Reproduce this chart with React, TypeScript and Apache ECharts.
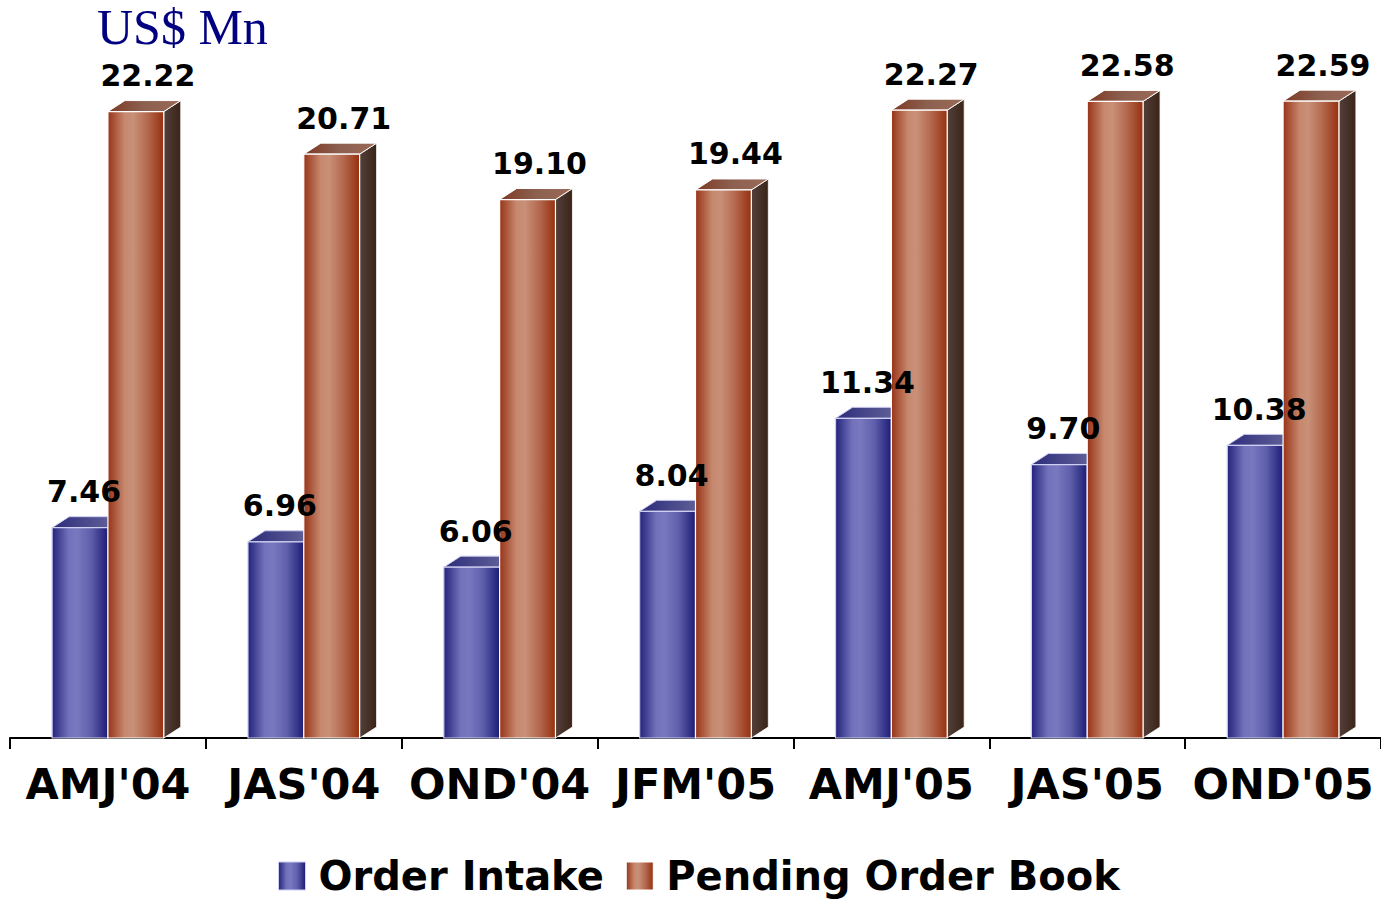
import React, { useEffect, useRef } from "react";
import * as echarts from "echarts";

// Quarterly figures, US$ Mn
const quarters = ["AMJ'04", "JAS'04", "OND'04", "JFM'05", "AMJ'05", "JAS'05", "OND'05"];
const orderIntake = [7.46, 6.96, 6.06, 8.04, 11.34, 9.7, 10.38];
const pendingOrderBook = [22.22, 20.71, 19.1, 19.44, 22.27, 22.58, 22.59];
const seriesNames = ["Order Intake", "Pending Order Book"];

const BOLD_FONT = '"DejaVu Sans", "Liberation Sans", Arial, sans-serif';

// Pseudo-3D bar geometry (pixels)
const DEPTH_X = 17;
const DEPTH_Y = 11;
const BAR_RATIO = 0.285;

const hGrad = (stops: [number, string][]) =>
  new echarts.graphic.LinearGradient(
    0, 0, 1, 0,
    stops.map(([offset, color]) => ({ offset, color }))
  );

const palettes = [
  {
    front: () => hGrad([[0, "#23237c"], [0.3, "#7272bb"], [0.45, "#7878c0"], [0.7, "#5e5eab"], [1, "#1c1c76"]]),
    top: () => hGrad([[0, "#2c2c7a"], [1, "#6c6ca0"]]),
    side: () => hGrad([[0, "#2a2a60"], [1, "#1a1a40"]]),
    stroke: "#cfcff2",
    labelShift: 4,
  },
  {
    front: () => hGrad([[0, "#983418"], [0.3, "#c6886e"], [0.45, "#c99078"], [0.7, "#b46a50"], [1, "#96300e"]]),
    top: () => hGrad([[0, "#7e3a24"], [0.5, "#8c6050"], [1, "#9c6a58"]]),
    side: () => hGrad([[0, "#54403a"], [1, "#3a2418"]]),
    stroke: "#ffffff",
    labelShift: 12,
  },
];

// Front-face x position and width of a bar within its category band
const barFrame = (seriesIdx: number, api: any) => {
  const idx = api.value(0);
  const val = api.value(1);
  const base = api.coord([idx, 0]);
  const top = api.coord([idx, val]);
  const band = api.size([1, 0])[0];
  const w = band * BAR_RATIO;
  const x = seriesIdx === 0 ? base[0] - w : base[0];
  return { val, x, w, yTop: top[1], yBase: base[1] };
};

const makeBarRenderItem = (seriesIdx: number) => (params: any, api: any) => {
  const { x, w, yTop, yBase } = barFrame(seriesIdx, api);
  const pal = palettes[seriesIdx];
  return {
    type: "group",
    children: [
      {
        type: "polygon",
        shape: {
          points: [
            [x + w, yTop],
            [x + w + DEPTH_X, yTop - DEPTH_Y],
            [x + w + DEPTH_X, yBase - DEPTH_Y],
            [x + w, yBase],
          ],
        },
        style: { fill: pal.side(), stroke: pal.stroke, lineWidth: 0.8 },
      },
      {
        type: "polygon",
        shape: {
          points: [
            [x, yTop],
            [x + DEPTH_X, yTop - DEPTH_Y],
            [x + w + DEPTH_X, yTop - DEPTH_Y],
            [x + w, yTop],
          ],
        },
        style: { fill: pal.top(), stroke: pal.stroke, lineWidth: 1 },
      },
      {
        type: "rect",
        shape: { x, y: yTop, width: w, height: yBase - yTop },
        style: { fill: pal.front(), stroke: pal.stroke, lineWidth: 1.2 },
      },
    ],
  };
};

// Value labels sit above every bar, on top of all bar faces
const makeLabelRenderItem = (seriesIdx: number) => (params: any, api: any) => {
  const { val, x, w, yTop } = barFrame(seriesIdx, api);
  const pal = palettes[seriesIdx];
  return {
    type: "text",
    x: x + w / 2 + pal.labelShift,
    y: yTop - DEPTH_Y - 10,
    style: {
      text: val.toFixed(2),
      fontSize: 30,
      fontWeight: "bold",
      fontFamily: BOLD_FONT,
      fill: "#000000",
      align: "center",
      verticalAlign: "bottom",
    },
  };
};

export default function App() {
  const ref = useRef<HTMLDivElement>(null);

  useEffect(() => {
    if (!ref.current) return;
    const chart = echarts.init(ref.current, null, { renderer: "svg" });

    const seriesData = [orderIntake, pendingOrderBook];

    const barSeries = seriesNames.map((name, i) => ({
      name,
      type: "custom",
      renderItem: makeBarRenderItem(i),
      encode: { x: 0, y: 1 },
      itemStyle: { color: palettes[i].front() },
      data: seriesData[i].map((v, k) => [k, v]),
      clip: false,
      z: 2 + i,
    }));

    const labelSeries = seriesNames.map((name, i) => ({
      name,
      type: "custom",
      renderItem: makeLabelRenderItem(i),
      encode: { x: 0, y: 1 },
      itemStyle: { color: palettes[i].front() },
      data: seriesData[i].map((v, k) => [k, v]),
      clip: false,
      silent: true,
      z: 10,
    }));

    chart.setOption({
      animation: false,
      backgroundColor: "#ffffff",
      grid: { left: 10, top: 5, width: 1379, height: 733, containLabel: false },
      xAxis: {
        type: "category",
        data: quarters,
        boundaryGap: true,
        axisLine: { show: true, lineStyle: { color: "#000000", width: 2 } },
        axisTick: { show: true, length: 11, alignWithLabel: false, lineStyle: { color: "#000000", width: 2 } },
        axisLabel: {
          margin: 24,
          fontSize: 43,
          fontWeight: "bold",
          fontFamily: BOLD_FONT,
          color: "#000000",
          interval: 0,
        },
        splitLine: { show: false },
      },
      yAxis: {
        type: "value",
        min: 0,
        max: 26,
        show: false,
        splitLine: { show: false },
      },
      legend: {
        left: 278,
        top: 856,
        padding: 0,
        icon: "rect",
        itemWidth: 27,
        itemHeight: 28,
        itemGap: 22,
        textStyle: {
          fontSize: 40,
          fontWeight: "bold",
          fontFamily: BOLD_FONT,
          color: "#000000",
          padding: [0, 0, 0, 8],
        },
        data: seriesNames.map((name, i) => ({
          name,
          itemStyle: { color: palettes[i].front(), borderColor: palettes[i].stroke, borderWidth: 1 },
        })),
      },
      graphic: [
        {
          type: "text",
          left: 97,
          top: 2,
          style: {
            text: "US$ Mn",
            fontSize: 50,
            fontFamily: '"Liberation Serif", "Times New Roman", serif',
            fill: "#000080",
          },
        },
      ],
      series: [...barSeries, ...labelSeries],
    });

    return () => chart.dispose();
  }, []);

  return (
    <div
      ref={ref}
      style={{ position: "absolute", left: 0, top: 0, width: 1381, height: 903, background: "#fff" }}
    />
  );
}
